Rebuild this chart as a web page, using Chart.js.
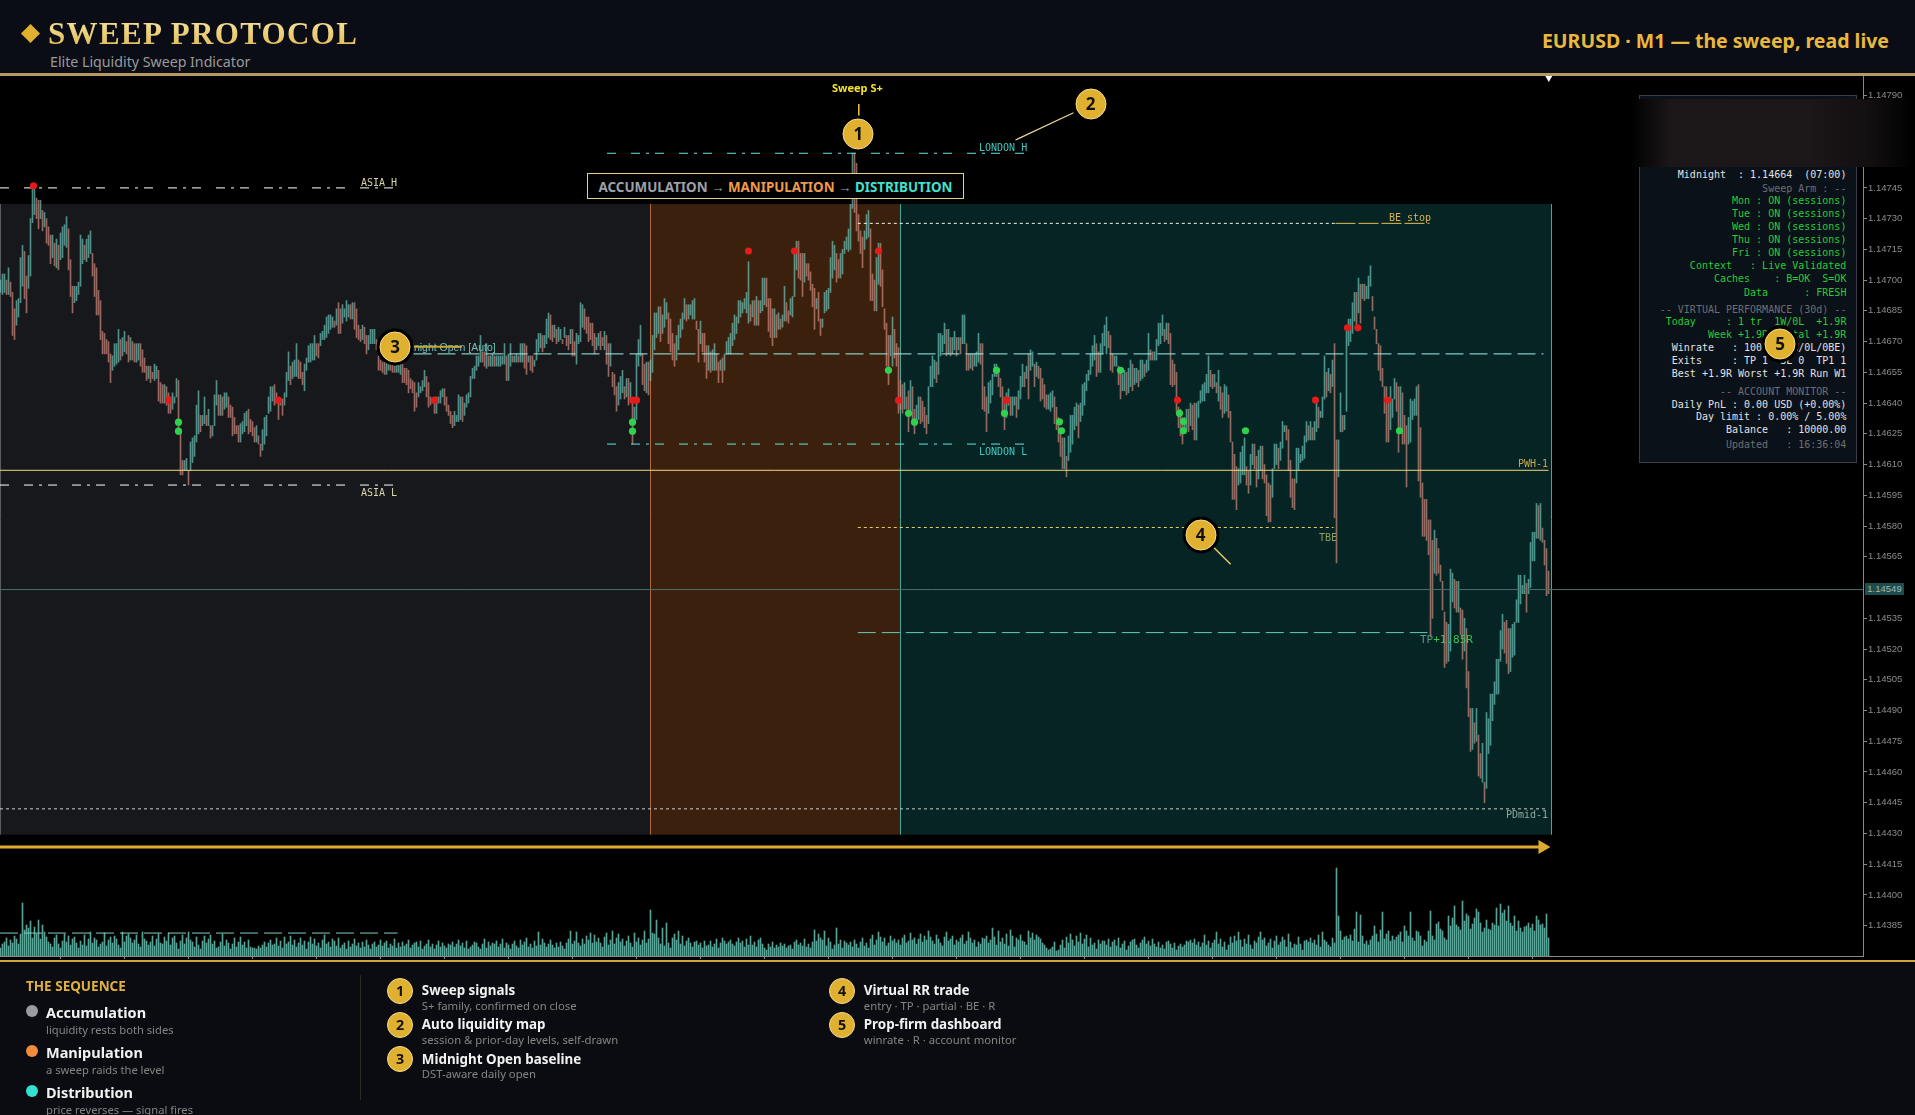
<!DOCTYPE html>
<html>
<head>
<meta charset="utf-8">
<title>Sweep Protocol</title>
<script src="https://cdn.jsdelivr.net/npm/chart.js@4/dist/chart.umd.min.js"></script>
<style>
  html, body { margin: 0; padding: 0; background: #000; width: 1915px; height: 1115px; overflow: hidden; }
  body { position: relative; font-family: "Noto Sans", sans-serif; }
  #header { position: absolute; left: 0; top: 0; width: 1915px; height: 73px; background: #0a0d15; }
  #headLine { position: absolute; left: 0; top: 73px; width: 1915px; height: 3px; background: #b49a60; }
  #diamond { position: absolute; left: 23px; top: 26px; width: 15px; height: 15px; background: #e0b030; transform: rotate(45deg) scale(.9, .9); }
  #title { position: absolute; left: 48px; top: 16px; font: bold 31px "Liberation Serif", serif; letter-spacing: 1.35px; white-space: nowrap;
           background: linear-gradient(#f7e6a8, #e0b548); -webkit-background-clip: text; background-clip: text; color: transparent; }
  #subtitle { position: absolute; left: 50px; top: 52px; font-size: 14.2px; color: #9a9a9a; white-space: nowrap; }
  #headRight { position: absolute; right: 26px; top: 27px; font-size: 19.5px; font-weight: 700; color: #e8b83f; white-space: nowrap; }
  #chartBox { position: absolute; left: 0; top: 76px; width: 1915px; height: 885px; }
  #footLine { position: absolute; left: 0; top: 960px; width: 1915px; height: 2px; background: #d4a53a; }
  #footer { position: absolute; left: 0; top: 962px; width: 1915px; height: 153px; background: #0a0c11; overflow: hidden; }
  .lbl { position: absolute; white-space: pre; font: 10px "DejaVu Sans Mono", monospace; transform: translateY(-50%); }
  #phaseBox { position: absolute; left: 587px; top: 173px; width: 375px; height: 24px; background: #000; border: 1.5px solid #e3cf8f;
              font-size: 13.4px; font-weight: 700; line-height: 26px; text-align: center; white-space: nowrap; color: #9ea0a8; }
  #dash { position: absolute; left: 1639px; top: 95px; width: 216px; height: 366px; background: #0b1119; border: 1.5px solid #3a3f4a; }
  .dl { position: absolute; right: 1915px; white-space: pre; font: 10px "DejaVu Sans Mono", monospace; transform: translateY(-50%); }
  #blur { position: absolute; left: 1630px; top: 99px; width: 285px; height: 68px;
          background: linear-gradient(to right, #000 0%, #1b1618 14%, #1c1719 62%, #120f10 84%, #000 100%); }
  #lastBox { position: absolute; left: 1865px; top: 583px; width: 39px; height: 12px; background: #1f4d4d; color: #9fb6b2; font: 9.5px "Liberation Sans", sans-serif; line-height: 12px; text-align: center; }
  .badge { position: absolute; box-sizing: border-box; border-radius: 50%; background: #e0b030; border: 1.5px solid #f5dc8c; color: #111;
           font-weight: 700; text-align: center; transform: translate(-50%, -50%); }
  #callouts { position: absolute; left: 0; top: 0; }
  .seqT { position: absolute; left: 46px; font-size: 14.5px; font-weight: 700; color: #f2f2f2; white-space: nowrap; transform: translateY(-50%); }
  .seqS { position: absolute; left: 46px; font-size: 11.2px; color: #858585; white-space: nowrap; transform: translateY(-50%); }
  .dot { position: absolute; left: 26px; width: 12px; height: 12px; border-radius: 50%; transform: translateY(-50%); }
  .keyT { position: absolute; font-size: 13.4px; font-weight: 700; color: #f2f2f2; white-space: nowrap; transform: translateY(-50%); }
  .keyS { position: absolute; font-size: 11.3px; color: #858585; white-space: nowrap; transform: translateY(-50%); }
</style>
</head>
<body>
<div id="header">
  <div id="diamond"></div>
  <div id="title">SWEEP PROTOCOL</div>
  <div id="subtitle">Elite Liquidity Sweep Indicator</div>
  <div id="headRight">EURUSD · M1 — the sweep, read live</div>
</div>
<div id="headLine"></div>
<div id="chartBox"><canvas id="myChart" width="1915" height="885"></canvas></div>
<div id="footLine"></div>
<div id="footer"></div>
<div id="overlay"></div>

<script>
// prices are kept in points above 1.14000, i.e. 664 is 1.14664
var priceBase = 1.14;

var barHighs = [
  700,703,703,700,706,699,694,686,690,691,711,717,714,702,712,730,745,745,740,739,
  739,734,733,730,726,722,722,718,720,717,723,726,727,731,725,710,697,697,697,699,
  722,720,717,720,722,724,713,708,706,695,690,675,674,671,670,664,663,669,669,676,
  671,672,675,670,673,672,670,669,669,669,669,666,662,658,658,658,655,659,658,656,
  650,649,649,648,645,643,645,643,652,651,627,612,612,613,607,621,623,624,639,646,
  634,634,643,634,637,629,629,644,651,644,644,643,645,645,643,639,638,633,629,629,
  630,631,635,636,637,632,631,628,629,624,620,627,633,634,643,648,648,649,645,642,
  642,642,645,655,665,658,660,661,669,661,660,655,659,662,668,669,669,673,669,669,
  674,675,678,682,683,683,682,680,686,689,686,688,686,690,688,688,689,689,686,678,
  676,678,677,673,673,676,676,676,671,663,661,660,660,660,660,659,659,658,659,659,
  660,659,657,657,656,652,651,650,645,650,648,651,656,653,650,643,642,640,643,643,
  646,647,647,643,639,636,634,636,634,644,643,643,640,644,645,653,657,658,663,663,
  673,665,665,669,663,663,664,663,663,663,663,663,669,663,664,669,663,663,664,663,
  669,669,669,668,663,663,663,661,671,674,674,673,673,681,684,683,678,678,676,677,
  676,671,677,673,673,676,676,670,674,673,689,688,686,682,682,679,679,674,672,674,
  675,672,675,673,669,669,655,654,648,650,653,656,648,652,652,650,642,638,664,671,
  678,664,659,660,660,661,673,684,684,687,687,683,691,689,684,681,674,669,673,678,
  681,684,691,688,688,688,690,691,680,676,680,674,674,668,668,665,666,669,664,660,
  661,662,664,670,672,674,679,683,682,690,690,689,691,694,709,688,690,690,692,690,
  690,701,701,701,691,691,686,686,683,684,681,683,697,689,685,691,692,713,719,719,
  713,713,713,708,708,704,698,696,691,694,681,681,694,695,696,711,719,717,713,710,
  713,715,719,721,725,737,762,762,757,732,724,721,724,732,734,725,703,700,711,718,
  718,705,686,679,673,673,682,676,669,667,651,649,650,643,646,651,648,637,639,643,
  643,641,638,634,648,658,663,661,660,674,674,673,679,676,676,672,672,675,672,672,
  672,683,683,669,664,664,664,664,665,674,669,669,648,643,650,651,654,659,659,656,
  652,648,643,645,647,643,643,643,643,646,653,659,655,658,664,666,665,659,660,658,
  657,652,649,644,644,645,646,643,638,633,627,623,623,614,624,634,634,638,640,639,
  640,649,650,654,656,664,668,673,669,665,669,674,678,682,675,673,664,663,663,658,
  657,654,656,655,657,661,659,657,657,656,661,661,659,661,674,666,665,665,671,679,
  679,683,676,679,679,674,661,659,655,638,637,633,633,637,637,640,639,640,640,641,
  646,649,650,654,663,656,654,654,650,656,648,645,649,648,644,636,621,615,609,608,
  616,619,623,609,607,615,620,620,614,617,619,619,610,605,601,600,608,620,620,618,
  621,631,629,629,627,612,603,603,618,618,615,619,624,631,629,631,628,631,642,638,
  636,643,663,655,657,654,661,669,622,622,645,634,634,675,681,681,689,694,694,701,
  698,698,698,697,702,707,692,682,676,669,668,657,648,648,640,648,642,652,650,648,
  648,645,634,629,633,642,641,642,648,649,628,601,593,593,583,583,573,578,574,569,
  561,553,538,533,532,559,557,554,553,553,540,539,535,530,509,491,491,484,491,478,
  469,474,455,489,486,498,498,504,515,515,529,537,533,534,530,530,532,533,544,556,
  556,551,556,552,554,572,577,577,591,590,591,579,573,569,558
];

var barLows = [
  694,693,694,693,693,692,673,671,678,682,689,697,691,684,696,702,728,732,730,725,
  730,724,726,718,717,708,711,707,706,705,710,711,717,716,705,692,684,689,690,693,
  697,708,710,709,711,713,702,692,683,683,671,664,664,664,660,650,656,658,659,660,
  661,663,665,664,660,661,661,660,660,661,658,655,655,651,652,650,652,651,652,641,
  640,640,640,639,635,635,637,640,643,625,605,605,607,607,600,607,611,614,621,625,
  626,629,630,629,629,623,624,629,639,634,634,634,637,638,633,633,624,625,625,621,
  621,625,626,629,625,626,624,621,621,620,614,617,620,624,635,636,641,639,640,632,
  639,634,639,643,651,649,652,653,653,652,652,649,646,656,660,660,661,661,663,662,
  668,671,671,672,674,676,677,677,678,674,674,679,682,680,682,681,681,676,672,671,
  670,671,669,664,666,669,669,669,666,656,656,655,654,654,656,656,655,655,655,655,
  654,650,650,649,645,647,645,636,638,643,645,646,648,643,638,639,640,635,635,640,
  640,643,639,636,634,630,628,629,631,631,632,631,634,638,640,643,652,652,656,658,
  660,660,658,657,658,658,658,658,658,658,658,659,659,651,651,658,660,660,660,660,
  660,660,657,654,660,656,655,658,661,665,667,665,667,669,672,671,670,672,669,670,
  671,669,672,668,666,669,663,663,659,669,670,677,676,674,670,671,668,664,666,668,
  666,668,666,659,653,658,648,644,636,639,642,645,642,643,639,641,620,630,632,658,
  663,649,646,645,644,651,655,666,672,674,670,674,677,681,669,665,661,658,661,666,
  672,676,681,680,681,683,681,681,676,660,669,665,660,652,656,655,656,656,656,650,
  656,650,656,664,664,664,668,671,674,679,682,684,686,684,679,680,682,678,678,678,
  684,685,688,687,675,672,668,672,672,676,676,677,680,680,679,683,682,692,705,701,
  700,692,699,702,700,695,687,676,686,680,673,677,684,685,686,694,701,705,699,701,
  701,703,713,715,714,715,735,733,724,719,713,706,715,720,721,690,690,685,685,698,
  697,687,676,658,649,663,658,662,658,635,637,635,637,637,626,635,631,625,631,632,
  630,631,628,625,630,648,648,652,650,654,663,665,669,663,664,663,664,666,663,666,
  664,669,669,656,656,657,656,658,658,660,659,637,636,626,635,640,644,653,653,648,
  643,636,627,633,639,634,634,639,633,637,642,648,648,652,642,656,658,648,653,652,
  641,642,638,637,637,636,638,630,627,621,614,608,608,604,612,616,620,627,629,623,
  631,634,639,646,651,654,658,661,653,655,655,664,668,664,667,656,655,658,658,649,
  642,646,646,644,645,648,646,649,650,648,651,652,653,655,656,661,661,661,661,668,
  669,673,670,671,669,649,648,649,636,628,624,620,627,627,626,629,627,622,622,633,
  640,641,641,645,645,648,647,648,645,641,637,633,635,636,633,621,593,593,588,600,
  601,605,605,600,596,600,610,608,599,603,607,603,601,585,582,582,594,608,610,608,
  612,618,626,622,607,594,589,588,601,607,611,612,613,621,622,622,622,622,626,628,
  633,633,642,643,646,645,648,584,562,604,626,626,627,636,668,670,674,680,677,684,
  679,691,690,691,691,697,685,676,669,656,651,648,635,621,621,627,633,642,636,616,
  627,620,620,599,620,621,632,634,634,602,594,575,575,573,566,526,535,557,556,557,
  553,539,511,513,514,519,543,540,538,538,527,515,519,501,487,470,471,474,475,458,
  457,455,445,452,469,473,485,493,498,498,514,520,518,513,508,509,516,517,533,533,
  542,547,547,538,547,550,563,563,574,574,573,572,561,546,547
];

// tick volume under each bar
var volumes = [
  8,12,14,18,10,16,13,20,17,12,22,53,26,31,28,35,18,29,22,36,17,31,24,19,14,
  12,9,18,21,12,8,15,22,14,20,11,17,19,13,8,15,11,21,10,17,24,13,18,16,9,
  12,14,23,10,16,19,13,20,17,11,8,24,14,20,22,18,13,16,21,12,9,24,17,15,11,
  14,20,10,17,22,13,12,19,15,23,11,18,20,13,7,15,21,12,18,24,16,14,9,19,11,
  7,15,20,13,17,21,12,15,8,9,14,22,10,16,13,7,12,18,9,14,19,11,14,8,16,
  9,8,8,7,10,8,11,14,9,13,16,11,12,18,10,15,8,19,12,14,20,11,16,9,13,
  18,11,15,7,14,19,12,17,10,13,8,16,21,12,14,9,17,15,10,18,8,11,13,7,15,
  9,12,17,10,13,8,14,9,16,11,7,12,14,9,11,16,10,13,15,8,12,10,17,8,13,
  9,14,10,12,16,8,11,13,14,9,15,7,10,12,16,9,12,7,11,15,9,13,10,8,12,
  11,14,9,12,16,10,13,8,15,7,9,11,14,13,9,7,12,17,8,14,10,13,12,15,9,
  12,17,8,13,11,7,12,15,10,8,16,11,14,18,9,12,8,15,10,24,11,17,13,9,12,
  16,11,8,13,9,14,10,7,13,17,25,12,15,24,13,10,17,12,20,16,23,13,21,14,18,
  13,9,19,23,11,16,25,12,18,22,14,17,10,15,20,13,9,23,14,18,11,16,25,13,17,
  46,23,22,36,18,12,28,10,33,13,8,18,22,16,25,12,20,10,15,18,13,9,14,15,11,
  13,8,15,10,11,15,9,12,17,8,13,18,15,12,14,16,12,10,14,18,13,15,9,17,11,
  20,11,14,9,16,18,12,8,6,12,9,14,8,11,9,13,10,12,8,10,11,7,14,16,11,
  13,10,17,9,12,8,14,26,15,22,18,16,25,10,18,14,7,11,28,12,16,8,15,13,11,
  14,9,16,12,8,14,18,10,13,8,17,21,11,16,24,19,14,18,10,13,20,15,17,13,16,
  11,18,21,13,15,23,16,18,12,17,22,14,20,16,25,19,15,12,21,17,13,10,19,24,15,
  17,20,11,16,14,18,21,12,15,24,18,13,16,9,14,12,18,17,20,13,16,28,19,11,25,
  14,18,12,22,10,26,20,9,18,16,21,15,14,11,25,18,23,16,21,19,17,13,11,8,6,
  7,9,14,5,6,11,16,8,19,13,22,16,10,20,14,23,12,17,21,9,18,11,13,7,16,
  12,15,15,11,17,9,14,16,10,18,8,12,15,6,10,14,16,17,11,8,13,16,19,12,15,
  10,17,12,9,14,8,11,7,14,15,12,8,13,6,10,12,9,11,15,14,16,13,17,11,14,
  9,13,21,11,15,8,13,16,24,12,17,9,14,6,11,19,13,20,15,24,16,9,17,12,21,
  11,7,15,13,19,24,16,18,10,13,17,8,15,20,11,14,19,16,9,22,14,8,12,11,19,
  12,6,15,16,14,18,13,16,11,21,9,24,16,14,11,9,18,13,88,40,25,16,19,20,17,
  21,15,27,44,14,41,20,12,15,11,16,20,30,22,14,26,44,17,22,25,15,20,16,19,21,
  24,14,30,25,20,44,18,15,25,24,20,10,16,14,25,45,20,16,32,34,27,25,18,16,40,
  30,38,50,31,29,26,55,35,42,40,27,32,38,47,44,33,24,28,36,27,26,33,31,48,30,
  52,43,46,35,50,33,30,40,25,35,28,24,29,30,33,28,32,25,40,36,31,32,28,42,18
];

// signal dots, bar index and price in points
var redDotBars = [16.5, 84, 139, 217, 316, 318, 374, 397, 439, 449, 503, 588.5, 657.5, 673.5, 678.7, 693.5];
var redDotPrices = [746, 641.4, 641.4, 641.4, 641.4, 641.4, 714.2, 714.2, 714.2, 641.4, 641.4, 641.5, 641.5, 676.7, 676.7, 641.5];
var greenDotBars = [89, 89, 316, 316, 444, 454, 457, 498, 502, 529.5, 530.5, 560, 589.5, 591.5, 591.5, 622.5, 699.5];
var greenDotPrices = [630.7, 626.3, 630.7, 626.3, 656, 635, 630.7, 656, 635, 630.9, 626.5, 656, 635, 631, 626.5, 626.5, 626.5];

var priceTicks = [1.14790, 1.14775, 1.14760, 1.14745, 1.14730, 1.14715, 1.14700, 1.14685, 1.14670, 1.14655, 1.14640, 1.14625,
  1.14610, 1.14595, 1.14580, 1.14565, 1.14535, 1.14520, 1.14505, 1.14490, 1.14475, 1.14460, 1.14445, 1.14430,
  1.14415, 1.14400, 1.14385];
var timeTicks = [30, 62, 94, 126, 158, 190, 222, 254, 286, 318, 350, 382, 414, 446, 478, 510, 542, 574, 606, 638, 670, 702, 734, 766];

var lastPrice = 549;
var asiaHigh = 745, asiaLow = 600, londonHigh = 761.9, londonLow = 620, midnightOpen = 664;
var priorMidnight = 381.4, prevWeekHigh = 607.2, prevDayMid = 442;
var beStop = 727.7, tbeLevel = 579.3, tpLevel = 528, arrowLevel = 423.4;

// phase boundaries in bar index, top and bottom in points
var phaseEdges = [-0.25, 324.75, 449.95, 775.25];
var phaseFills = ['#17181b', '#3a200d', '#052423'];
var phaseBorders = ['#5a5b5e', '#b06a38', '#4aa69c', '#4aa69c'];
var phaseTop = 737.1, phaseBottom = 429.4;

var xMin = -0.25, xMax = 931.25;
var yMinPts = 370.2, yMaxPts = 799.6;

function price(p) { return priceBase + p / 100000; }

function levelLine(pts, from, to, color, dash, width) {
  return {
    type: 'line',
    data: [{x: from, y: price(pts)}, {x: to, y: price(pts)}],
    borderColor: color,
    borderWidth: width || 1,
    borderDash: dash || [],
    pointRadius: 0,
    order: 1
  };
}

// rising bars teal, falling bars salmon
var priceBars = [], barColors = [], volBars = [];
for (var i = 0; i < barHighs.length; i++) {
  var mid = barHighs[i] + barLows[i];
  var prevMid = i ? barHighs[i - 1] + barLows[i - 1] : mid;
  priceBars.push({x: i, y: [price(barLows[i]), price(barHighs[i])]});
  barColors.push(mid >= prevMid ? 'rgba(110, 200, 188, 0.68)' : 'rgba(214, 142, 130, 0.68)');
  volBars.push({x: i, y: volumes[i]});
}

function dots(bars, prices) {
  return bars.map(function (b, k) { return {x: b, y: price(prices[k])}; });
}

var sessionDash = [9, 15, 9, 6, 3, 6];
var longDash = [18, 6];
var fineDash = [3, 3];

var phasePlugin = {
  id: 'phases',
  beforeDatasetsDraw: function (chart) {
    var c = chart.ctx, xs = chart.scales.x, ys = chart.scales.y;
    var top = ys.getPixelForValue(price(phaseTop)), bottom = ys.getPixelForValue(price(phaseBottom));
    c.save();
    for (var k = 0; k < phaseFills.length; k++) {
      var a = xs.getPixelForValue(phaseEdges[k]), b = xs.getPixelForValue(phaseEdges[k + 1]);
      c.fillStyle = phaseFills[k];
      c.fillRect(a, top, b - a, bottom - top);
    }
    for (k = 0; k < phaseEdges.length; k++) {
      var e = Math.round(xs.getPixelForValue(phaseEdges[k])) + 0.5;
      c.strokeStyle = phaseBorders[k];
      c.lineWidth = 1;
      c.beginPath();
      c.moveTo(e, top);
      c.lineTo(e, bottom);
      c.stroke();
    }
    c.restore();
  }
};

var ctx = document.getElementById('myChart').getContext('2d');
var myChart = new Chart(ctx, {
  type: 'bar',
  plugins: [phasePlugin],
  data: {
    datasets: [
      {type: 'line', showLine: false, data: dots(redDotBars, redDotPrices), pointRadius: 3.6, pointBackgroundColor: '#e51a1a', pointBorderWidth: 0, order: 0},
      {type: 'line', showLine: false, data: dots(greenDotBars, greenDotPrices), pointRadius: 3.6, pointBackgroundColor: '#2fd24c', pointBorderWidth: 0, order: 0},
      levelLine(asiaHigh, -0.25, 198.5, '#ffffff', sessionDash),
      levelLine(asiaLow, -0.25, 198.5, '#ffffff', sessionDash),
      levelLine(londonHigh, 303.25, 512.5, '#5fe8e0', sessionDash),
      levelLine(londonLow, 303.25, 512.5, '#5fe8e0', sessionDash),
      levelLine(midnightOpen, 206.5, 771.5, '#9ff0e8', longDash),
      levelLine(priorMidnight, -0.25, 198.5, '#7fd0c8', longDash),
      levelLine(prevWeekHigh, -0.25, 774, '#f0d67f'),
      levelLine(beStop, 428.65, 667.5, '#f2f5ee', fineDash),
      levelLine(beStop, 667.5, 714.5, '#e5bd58', [20, 3]),
      levelLine(tbeLevel, 428.65, 666.5, '#e8cf68', fineDash),
      levelLine(tpLevel, 428.65, 713.5, '#68ccb4', longDash),
      levelLine(prevDayMid, -0.25, 773.5, '#c8d0cc', fineDash),
      levelLine(lastPrice, -0.25, 931.25, '#4f6f6a'),
      {type: 'line', data: [{x: -0.25, y: price(arrowLevel)}, {x: 771, y: price(arrowLevel)}], borderColor: '#dda92f', borderWidth: 3,
       pointRadius: [0, 8], pointStyle: 'triangle', rotation: 90, pointBackgroundColor: '#dda92f', pointBorderWidth: 0, order: 1},
      {type: 'line', showLine: false, clip: false, data: [{x: 774.15, y: price(798.6)}], pointRadius: 4, pointStyle: 'triangle', rotation: 180,
       pointBackgroundColor: '#fff', pointBorderWidth: 0, order: 0},
      {data: priceBars, backgroundColor: barColors, barThickness: 1, stack: 'bars', order: 2},
      {data: volBars, yAxisID: 'yVol', backgroundColor: 'rgba(104, 192, 176, 0.85)', barThickness: 1, stack: 'bars', order: 3}
    ]
  },
  options: {
    responsive: false,
    animation: false,
    layout: {padding: 0, autoPadding: false},
    plugins: {legend: {display: false}, tooltip: {enabled: false}},
    scales: {
      x: {
        type: 'linear',
        offset: false,
        min: xMin,
        max: xMax,
        grid: {offset: false, drawOnChartArea: false, tickLength: 3, tickColor: '#888'},
        border: {color: '#888'},
        ticks: {display: false},
        afterBuildTicks: function (axis) { axis.ticks = timeTicks.map(function (v) { return {value: v}; }); },
        afterFit: function (axis) { axis.height = 5; }
      },
      y: {
        position: 'right',
        stacked: false,
        min: price(yMinPts),
        max: price(yMaxPts),
        grid: {drawOnChartArea: false, tickLength: 4, tickColor: '#888'},
        border: {color: '#888'},
        ticks: {color: '#8b8b8b', padding: 1, autoSkip: false, font: {family: 'Liberation Sans', size: 9.5},
                callback: function (v) { return v.toFixed(5); }},
        afterBuildTicks: function (axis) { axis.ticks = priceTicks.map(function (v) { return {value: v}; }); },
        afterFit: function (axis) { axis.width = 52; axis.paddingTop = 0; axis.paddingBottom = 0; }
      },
      yVol: {display: false, stacked: false, min: 0, max: 880}
    }
  }
});

// text and furniture drawn on top of the canvas
var overlay = document.getElementById('overlay');

function addDiv(parent, cls, text, css) {
  var d = document.createElement('div');
  d.className = cls;
  if (text) d.textContent = text;
  for (var k in css) d.style[k] = css[k];
  parent.appendChild(d);
  return d;
}

var chartLabels = [
  ['ASIA H', 361, 181.7, '#d9d5a9'],
  ['ASIA L', 361, 491.7, '#d9d5a9'],
  ['LONDON H', 979, 146.7, '#3fc7c0'],
  ['LONDON L', 979, 450.7, '#3fc7c0'],
  ['BE stop', 1389, 216.7, '#d9b34f'],
  ['TBE', 1319, 536.7, '#8f9f62'],
  ['PWH-1', 1518, 463.3, '#c9a94a'],
  ['PDmid-1', 1506, 814.3, '#8fa9a5']
];
chartLabels.forEach(function (l) {
  addDiv(overlay, 'lbl', l[0], {left: l[1] + 'px', top: l[2] + 'px', color: l[3]});
});
addDiv(overlay, 'lbl', 'Midnight Open [Auto]', {left: '397px', top: '347.3px', color: '#6dc1bd', font: '10.5px "Liberation Sans", sans-serif'});
addDiv(overlay, 'lbl', 'TP', {left: '1420px', top: '639px', color: '#4f9a80', font: '11px "DejaVu Sans Mono", monospace'});
addDiv(overlay, 'lbl', '+1.85R', {left: '1433.2px', top: '639px', color: '#35c84a', font: '11px "DejaVu Sans Mono", monospace'});
addDiv(overlay, 'lbl', 'Sweep S+', {left: '832px', top: '86.7px', color: '#f5e22a', font: 'bold 11px "Noto Sans", sans-serif'});

var phaseBox = addDiv(overlay, '', '', {});
phaseBox.id = 'phaseBox';
phaseBox.innerHTML = 'ACCUMULATION → <span style="color:#f09a4e">MANIPULATION</span> → <span style="color:#45e0d0">DISTRIBUTION</span>';

var dashWhite = '#e2e2e2', dashGreen = '#27cc38', dashGrey = '#6c6f72';
var dashLines = [
  ['Midnight  : 1.14664  (07:00)', 174.3, dashWhite],
  ['Sweep Arm : --', 187.7, dashGrey],
  ['Mon : ON (sessions)', 200.3, dashGreen],
  ['Tue : ON (sessions)', 213.3, dashGreen],
  ['Wed : ON (sessions)', 226.3, dashGreen],
  ['Thu : ON (sessions)', 239.3, dashGreen],
  ['Fri : ON (sessions)', 252.3, dashGreen],
  ['Context   : Live Validated', 265.3, dashGreen],
  ['Caches    : B=OK  S=OK', 278.3, dashGreen],
  ['Data      : FRESH', 291.6, dashGreen],
  ['-- VIRTUAL PERFORMANCE (30d) --', 308.7, dashGrey],
  ['Today     : 1 tr  1W/0L  +1.9R', 321.3, dashGreen],
  ['Week +1.9R  Total +1.9R', 334.3, dashGreen],
  ['Winrate   : 100.0%(1W/0L/0BE)', 347.3, dashWhite],
  ['Exits     : TP 1  SL 0  TP1 1', 360.3, dashWhite],
  ['Best +1.9R Worst +1.9R Run W1', 373.3, dashWhite],
  ['-- ACCOUNT MONITOR --', 390.7, dashGrey],
  ['Daily PnL : 0.00 USD (+0.00%)', 403.7, dashWhite],
  ['Day limit : 0.00% / 5.00%', 416.3, dashWhite],
  ['Balance   : 10000.00', 429.3, dashWhite],
  ['Updated   : 16:36:04', 444.3, dashGrey]
];
addDiv(overlay, '', '', {}).id = 'dash';
dashLines.forEach(function (l) {
  addDiv(overlay, 'dl', l[0], {right: (1915 - 1846.4) + 'px', top: l[1] + 'px', color: l[2]});
});
addDiv(overlay, '', '', {}).id = 'blur';
addDiv(overlay, '', '1.14549', {}).id = 'lastBox';

// callout strokes
overlay.insertAdjacentHTML('beforeend',
  '<svg id="callouts" width="1915" height="1115">' +
  '<line x1="858.8" y1="104" x2="858.8" y2="116" stroke="#e8b83f" stroke-width="1.6"/>' +
  '<line x1="1015.5" y1="140" x2="1073.5" y2="112.7" stroke="#ead69a" stroke-width="1.2"/>' +
  '<line x1="1213.5" y1="547.3" x2="1230.6" y2="564.3" stroke="#e8c866" stroke-width="1.5"/>' +
  '<line x1="414" y1="346.7" x2="461.7" y2="346.7" stroke="#c9a636" stroke-width="2"/>' +
  '</svg>');

function badge(n, x, y, size, ring) {
  addDiv(overlay, 'badge', n, {left: x + 'px', top: y + 'px', width: size + 'px', height: size + 'px', lineHeight: (size - 3) + 'px',
    fontSize: (size * 0.55) + 'px', boxShadow: ring ? '0 0 0 3px #000' : 'none'});
}
badge('1', 858.4, 134.3, 31, true);
badge('2', 1090.6, 104.3, 31, true);
badge('3', 395, 347.3, 31, true);
badge('4', 1200.7, 534.6, 31, true);
badge('5', 1780, 344.3, 31, true);

addDiv(overlay, '', 'THE SEQUENCE', {position: 'absolute', left: '26px', top: '977px', fontSize: '13.5px', fontWeight: '700', color: '#e0b040', whiteSpace: 'nowrap'});

var seqItems = [
  ['Accumulation', 'liquidity rests both sides', '#9a9aa2', 1010.7],
  ['Manipulation', 'a sweep raids the level', '#f08c3c', 1051],
  ['Distribution', 'price reverses — signal fires', '#35e0d0', 1091]
];
seqItems.forEach(function (s) {
  addDiv(overlay, 'dot', '', {top: s[3] + 'px', background: s[2]});
  addDiv(overlay, 'seqT', s[0], {top: (s[3] + 1) + 'px'});
  addDiv(overlay, 'seqS', s[1], {top: (s[3] + 18) + 'px'});
});
addDiv(overlay, '', '', {position: 'absolute', left: '360px', top: '975px', width: '1px', height: '125px', background: '#2a2a24'});

var keyItems = [
  ['1', 'Sweep signals', 'S+ family, confirmed on close', 400, 991],
  ['2', 'Auto liquidity map', 'session & prior-day levels, self-drawn', 400, 1025],
  ['3', 'Midnight Open baseline', 'DST-aware daily open', 400, 1059.3],
  ['4', 'Virtual RR trade', 'entry · TP · partial · BE · R', 842, 991],
  ['5', 'Prop-firm dashboard', 'winrate · R · account monitor', 842, 1025]
];
keyItems.forEach(function (k) {
  badge(k[0], k[3], k[4], 26, false);
  addDiv(overlay, 'keyT', k[1], {left: (k[3] + 21.8) + 'px', top: (k[4] - 0.7) + 'px'});
  addDiv(overlay, 'keyS', k[2], {left: (k[3] + 21.8) + 'px', top: (k[4] + 14) + 'px'});
});
</script>
</body>
</html>
